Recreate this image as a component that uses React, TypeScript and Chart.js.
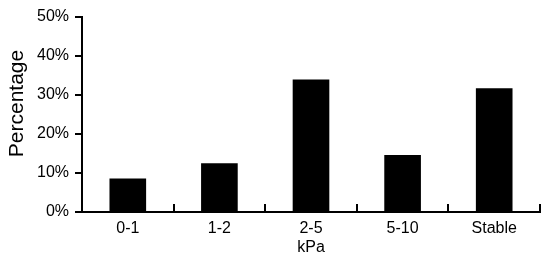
import React, { useEffect, useRef } from "react";
import { Chart, registerables } from "chart.js";

Chart.register(...registerables);

const categories = ["0-1", "1-2", "2-5", "5-10", "Stable"];
const percentages = [8.6, 12.5, 34.0, 14.6, 31.7];
const yTicks = [0, 10, 20, 30, 40, 50];
const yTitle = "Percentage";
const xTitle = "kPa";

const FONT = "'Liberation Sans', Arial, sans-serif";

const inwardTicks = {
  id: "inwardTicks",
  afterDraw(chart: any) {
    const x = chart.scales.x;
    const ctx = chart.ctx;
    const n = categories.length;
    const half = (x.getPixelForValue(1) - x.getPixelForValue(0)) / 2;
    ctx.save();
    ctx.strokeStyle = "#000";
    ctx.lineWidth = 2;
    const yb = chart.chartArea.bottom;
    for (let i = 0; i < n; i++) {
      const px = Math.round(x.getPixelForValue(i) + half);
      ctx.beginPath();
      ctx.moveTo(px, yb);
      ctx.lineTo(px, yb - 8);
      ctx.stroke();
    }
    // y-axis title, placed slightly above the axis middle as in the reference
    ctx.translate(17, 103.5);
    ctx.rotate(-Math.PI / 2);
    ctx.fillStyle = "#000";
    ctx.font = `21px ${FONT}`;
    ctx.textAlign = "center";
    ctx.textBaseline = "middle";
    ctx.fillText(yTitle, 0, 0);
    ctx.restore();
  },
};

export default function App() {
  const ref = useRef<HTMLCanvasElement | null>(null);
  useEffect(() => {
    if (!ref.current) return;
    const chart = new Chart(ref.current, {
      type: "bar",
      data: {
        labels: categories,
        datasets: [
          {
            data: percentages,
            backgroundColor: "#000",
            borderWidth: 0,
            categoryPercentage: 1,
            barPercentage: 0.4,
          },
        ],
      },
      options: {
        animation: false,
        responsive: false,
        maintainAspectRatio: false,
        layout: { padding: { left: 0, right: 10, top: 17, bottom: 0 } },
        plugins: { legend: { display: false }, tooltip: { enabled: false } },
        scales: {
          x: {
            grid: { display: false, drawTicks: false },
            border: { display: true, color: "#000", width: 2 },
            ticks: { color: "#000", font: { family: FONT, size: 16 }, padding: 7 },
            title: {
              display: true,
              text: xTitle,
              color: "#000",
              font: { family: FONT, size: 16 },
              padding: { top: 0, bottom: 0 },
            },
            afterFit(scale: any) {
              scale.height = 45;
            },
          },
          y: {
            min: 0,
            max: 50,
            afterBuildTicks(scale: any) {
              scale.ticks = yTicks.map((v) => ({ value: v }));
            },
            grid: { drawOnChartArea: false, color: "#000", lineWidth: 2, tickLength: 7 },
            border: { display: true, color: "#000", width: 2 },
            ticks: {
              color: "#000",
              font: { family: FONT, size: 16 },
              padding: 6,
              callback: (v: any) => v + "%",
            },
            title: { display: false },
            afterFit(scale: any) {
              scale.width = 82;
            },
          },
        },
      },
      plugins: [inwardTicks],
    });
    return () => chart.destroy();
  }, []);
  return (
    <div style={{ position: "fixed", left: 0, top: 0, width: 550, height: 257, background: "#fff" }}>
      <canvas ref={ref} width={550} height={257} style={{ width: 550, height: 257, display: "block" }} />
    </div>
  );
}
